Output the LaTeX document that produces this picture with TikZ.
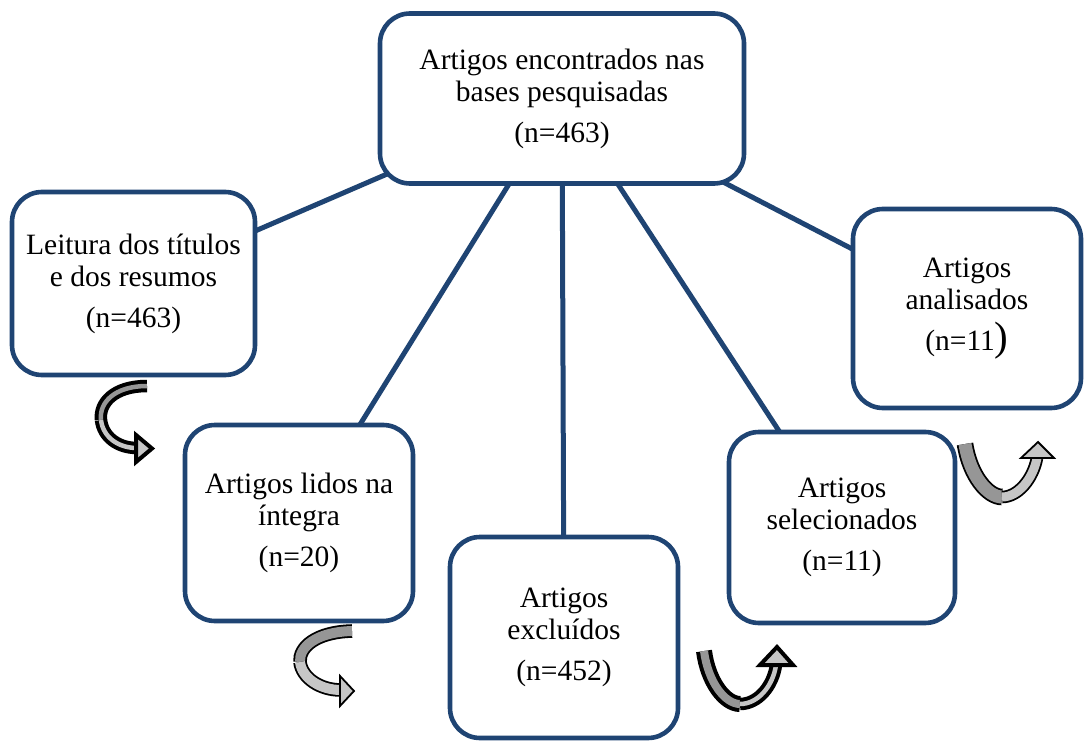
\documentclass[tikz,border=0pt]{standalone}
\usepackage{fontspec}
\setmainfont{Liberation Serif}
\usetikzlibrary{backgrounds}
\definecolor{azul}{RGB}{31,68,115}
\definecolor{cinzaesc}{RGB}{150,150,150}
\definecolor{cinzacla}{RGB}{198,198,198}

\begin{document}
\begin{tikzpicture}[x=1pt,y=-1pt,
  caixa/.style={draw=azul,line width=4.6pt,rounded corners=30pt,fill=white,align=center,inner sep=0pt,font=\fontsize{29.5}{32}\selectfont},
  ligacao/.style={draw=azul,line width=5pt},
  grossa/.style={line width=4pt,double distance=4.5pt},
  fina/.style={line width=1.8pt,double distance=10pt},
  ponta/.style={fill=cinzacla,draw=black,line join=miter}]
\useasboundingbox (0,0) rectangle (1086,743);

\node[caixa,minimum width=364,minimum height=170] (bases) at (562,98.5) {Artigos encontrados nas\\bases pesquisadas\\[9pt](n=463)};
\node[caixa,minimum width=243,minimum height=183] (leitura) at (133.5,283.5) {Leitura dos títulos\\e dos resumos\\[9pt](n=463)};
\node[caixa,minimum width=228,minimum height=196] (lidos) at (299,523) {Artigos lidos na\\íntegra\\[9pt](n=20)};
\node[caixa,minimum width=228,minimum height=201] (excluidos) at (564,637.5) {Artigos\\excluídos\\[9pt](n=452)};
\node[caixa,minimum width=226,minimum height=191] (selecionados) at (842,527.5) {Artigos\\selecionados\\[9pt](n=11)};
\node[caixa,minimum width=228,minimum height=199] (analisados) at (967,308.5) {Artigos\\analisados\\[9pt](n=11{\fontsize{41}{32}\selectfont)}};

\begin{scope}[on background layer]
\foreach \alvo in {leitura,lidos,excluidos,selecionados,analisados}
  \draw[ligacao] (bases.center) -- (\alvo.center);
\end{scope}

% setas curvas
\draw[grossa,double=cinzaesc] (147,386) .. controls (114,386) and (99,403) .. (101,420);
\draw[grossa,double=cinzacla] (101,420) .. controls (103,437) and (118,448) .. (137,448);
\draw[ponta,line width=4pt] (136,435) -- (152,448.5) -- (136,462) -- cycle;

\draw[fina,double=cinzaesc] (352,631) .. controls (316,632) and (299,647) .. (300,662);
\draw[fina,double=cinzacla] (300,662) .. controls (302,678) and (320,690) .. (341,690);
\draw[ponta,line width=1.8pt] (340,676) -- (354,691) -- (340,706) -- cycle;

\draw[grossa,double distance=8pt,double=cinzaesc] (704,651) .. controls (708,682) and (725,704) .. (740,704);
\draw[grossa,double=cinzacla] (740,704) .. controls (758,704) and (773,686) .. (776,665);
\draw[ponta,line width=4pt] (760,665) -- (777,647) -- (793,665) -- cycle;

\draw[fina,double distance=13pt,double=cinzaesc] (965,444) .. controls (970,476) and (988,497) .. (1002,497);
\draw[fina,double distance=9pt,double=cinzacla] (1002,497) .. controls (1018,497) and (1033,479) .. (1037,458);
\draw[ponta,line width=1.8pt] (1021,458) -- (1038,442) -- (1054,458) -- cycle;
\end{tikzpicture}
\end{document}
